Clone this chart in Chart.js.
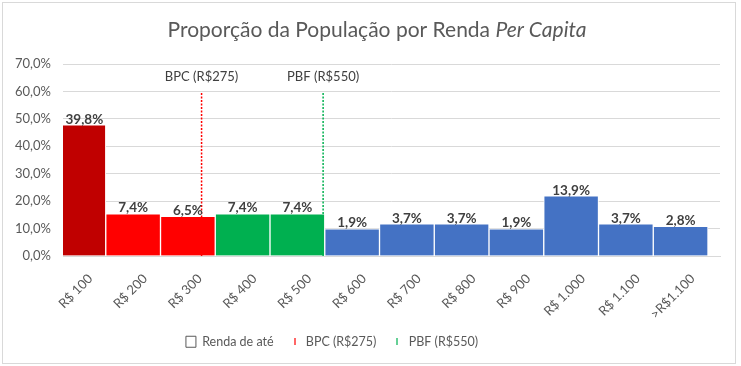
<!DOCTYPE html>
<html>
<head>
<meta charset="utf-8">
<script src="https://cdn.jsdelivr.net/npm/chart.js@4"></script>
<style>
  html, body { margin: 0; padding: 0; background: #fff; }
  #wrap { position: relative; width: 741px; height: 366px; }
</style>
</head>
<body>
<div id="wrap"><canvas id="rendaChart" width="741" height="366"></canvas></div>
<script>
// Categories and values
const categories = ['R$ 100', 'R$ 200', 'R$ 300', 'R$ 400', 'R$ 500', 'R$ 600',
    'R$ 700', 'R$ 800', 'R$ 900', 'R$ 1.000', 'R$ 1.100', '>R$1.100'];
const shares = [39.8, 7.4, 6.5, 7.4, 7.4, 1.9, 3.7, 3.7, 1.9, 13.9, 3.7, 2.8]; // data labels
const barHeights = [47.8, 15.4, 14.5, 15.4, 15.4, 9.9, 11.7, 11.7, 9.9, 21.9, 11.7, 10.8]; // heights on the axis
const barColors = ['#C00000', '#FF0000', '#FF0000', '#00B050', '#00B050', '#4472C4',
    '#4472C4', '#4472C4', '#4472C4', '#4472C4', '#4472C4', '#4472C4'];

// Reference lines (position on the bar scale, in bar units)
const refNames = ['BPC (R$275)', 'PBF (R$550)'];
const refPositions = [2.25, 4.47];
const refTop = 60;
const refColors = ['#FF0000', '#00B050'];

const FONT = 'Lato, "Open Sans", sans-serif';
const fmt = (v) => v.toFixed(1).replace('.', ',') + '%';

// small vertical tick used as legend marker for the reference lines
const makeTick = (color) => {
    const c = document.createElement('canvas');
    c.width = 2;
    c.height = 7;
    const g = c.getContext('2d');
    g.fillStyle = color;
    g.globalAlpha = 0.6;
    g.fillRect(0, 0, 2, 7);
    return c;
};
const tickImages = refColors.map(makeTick);

// Frame + background
const framePlugin = {
    id: 'frame',
    beforeDraw: (chart) => {
        const { ctx } = chart;
        ctx.save();
        ctx.fillStyle = '#fff';
        ctx.fillRect(0, 0, chart.width, chart.height);
        ctx.strokeStyle = '#d9d9d9';
        ctx.lineWidth = 1;
        ctx.strokeRect(2.5, 2.5, 733, 361);
        ctx.restore();
    },
};

// legend sits a bit left of centre in the original
const legendShift = {
    id: 'legendShift',
    afterLayout: (chart) => {
        chart.legend.left -= 28;
        chart.legend.right -= 28;
    },
};

// Title with italic "Per Capita"
const titlePlugin = {
    id: 'mixedTitle',
    afterDraw: (chart) => {
        const { ctx } = chart;
        const part1 = 'Proporção da População por Renda ';
        const part2 = 'Per Capita';
        ctx.save();
        ctx.fillStyle = '#595959';
        ctx.textBaseline = 'alphabetic';
        ctx.font = '21px ' + FONT;
        const w1 = ctx.measureText(part1).width;
        ctx.font = 'italic 21px ' + FONT;
        const w2 = ctx.measureText(part2).width;
        const x0 = 377 - (w1 + w2) / 2;
        ctx.font = '21px ' + FONT;
        ctx.fillText(part1, x0, 37);
        ctx.font = 'italic 21px ' + FONT;
        ctx.fillText(part2, x0 + w1, 37);
        ctx.restore();
    },
};

// Value labels on bars + names over the reference lines
const labelPlugin = {
    id: 'barLabels',
    afterDatasetsDraw: (chart) => {
        const { ctx, chartArea } = chart;
        const bars = chart.getDatasetMeta(0).data;
        ctx.save();
        ctx.fillStyle = '#404040';
        ctx.textAlign = 'center';
        ctx.textBaseline = 'bottom';
        ctx.font = 'bold 13.5px ' + FONT;
        bars.forEach((bar, i) => {
            const left = Math.max(bar.x - bar.width / 2, chartArea.left);
            const right = Math.min(bar.x + bar.width / 2, chartArea.right);
            ctx.fillText(fmt(shares[i]), (left + right) / 2, bar.y + 1);
        });
        ctx.font = '13px ' + FONT;
        ctx.textBaseline = 'middle';
        refNames.forEach((name, k) => {
            const pts = chart.getDatasetMeta(k + 1).data;
            const top = pts[1];
            ctx.fillText(name, top.x, top.y - 15);
        });
        ctx.restore();
    },
};

const PAD_BOTTOM = 8;
const PLOT_BOTTOM = 256;

const ctx = document.getElementById('rendaChart').getContext('2d');
const chart = new Chart(ctx, {
    type: 'bar',
    data: {
        labels: categories,
        datasets: [
            {
                label: 'Renda de até',
                data: barHeights.map((v, i) => ({ x: i, y: v })),
                xAxisID: 'xb',
                backgroundColor: barColors,
                borderColor: '#ffffff',
                borderWidth: 1,
                borderSkipped: 'bottom',
                barPercentage: 1,
                categoryPercentage: 1,
                clip: 0,
                order: 2,
            },
            ...refNames.map((name, k) => ({
                type: 'line',
                label: name,
                data: [{ x: refPositions[k], y: 0 }, { x: refPositions[k], y: refTop }],
                xAxisID: 'xb',
                borderColor: refColors[k],
                backgroundColor: refColors[k],
                borderWidth: 1.5,
                borderDash: [2, 1.5],
                pointRadius: 0,
                fill: false,
                order: 1,
            })),
        ],
    },
    options: {
        responsive: false,
        animation: false,
        layout: {
            padding: { left: 0, right: 21, top: 64, bottom: PAD_BOTTOM },
        },
        scales: {
            x: {
                type: 'category',
                position: 'bottom',
                offset: true,
                grid: { display: false },
                border: { display: true, color: '#d9d9d9' },
                ticks: {
                    color: '#595959',
                    font: { family: FONT, size: 13 },
                    minRotation: 45,
                    maxRotation: 45,
                    padding: 7,
                },
                afterFit: (scale) => {
                    const legendH = scale.chart.legend ? scale.chart.legend.height : 0;
                    scale.height = 366 - PAD_BOTTOM - legendH - PLOT_BOTTOM;
                },
            },
            xb: {
                type: 'linear',
                display: false,
                offset: false,
                min: -0.281,
                max: 11.719,
            },
            y: {
                min: 0,
                max: 70,
                ticks: {
                    stepSize: 10,
                    color: '#595959',
                    font: { family: FONT, size: 13 },
                    padding: 12,
                    callback: (v) => fmt(v),
                },
                grid: { color: '#d9d9d9', drawTicks: false },
                border: { display: false },
                afterFit: (scale) => { scale.width = 63; },
            },
        },
        plugins: {
            legend: {
                position: 'bottom',
                labels: {
                    color: '#595959',
                    font: { family: FONT, size: 12.5 },
                    usePointStyle: true,
                    boxHeight: 11,
                    pointStyleWidth: 10,
                    padding: 16,
                    generateLabels: (chart) => {
                        const items = Chart.defaults.plugins.legend.labels.generateLabels(chart);
                        items.sort((a, b) => a.datasetIndex - b.datasetIndex);
                        items.forEach((it) => {
                            if (it.datasetIndex === 0) {
                                it.pointStyle = 'rect';
                                it.fillStyle = '#ffffff';
                                it.strokeStyle = '#595959';
                                it.lineWidth = 1;
                            } else {
                                it.pointStyle = tickImages[it.datasetIndex - 1];
                                it.lineDash = [];
                                it.lineWidth = 0;
                            }
                        });
                        return items;
                    },
                },
            },
            tooltip: { enabled: false },
        },
    },
    plugins: [framePlugin, legendShift, titlePlugin, labelPlugin],
});
</script>
</body>
</html>
